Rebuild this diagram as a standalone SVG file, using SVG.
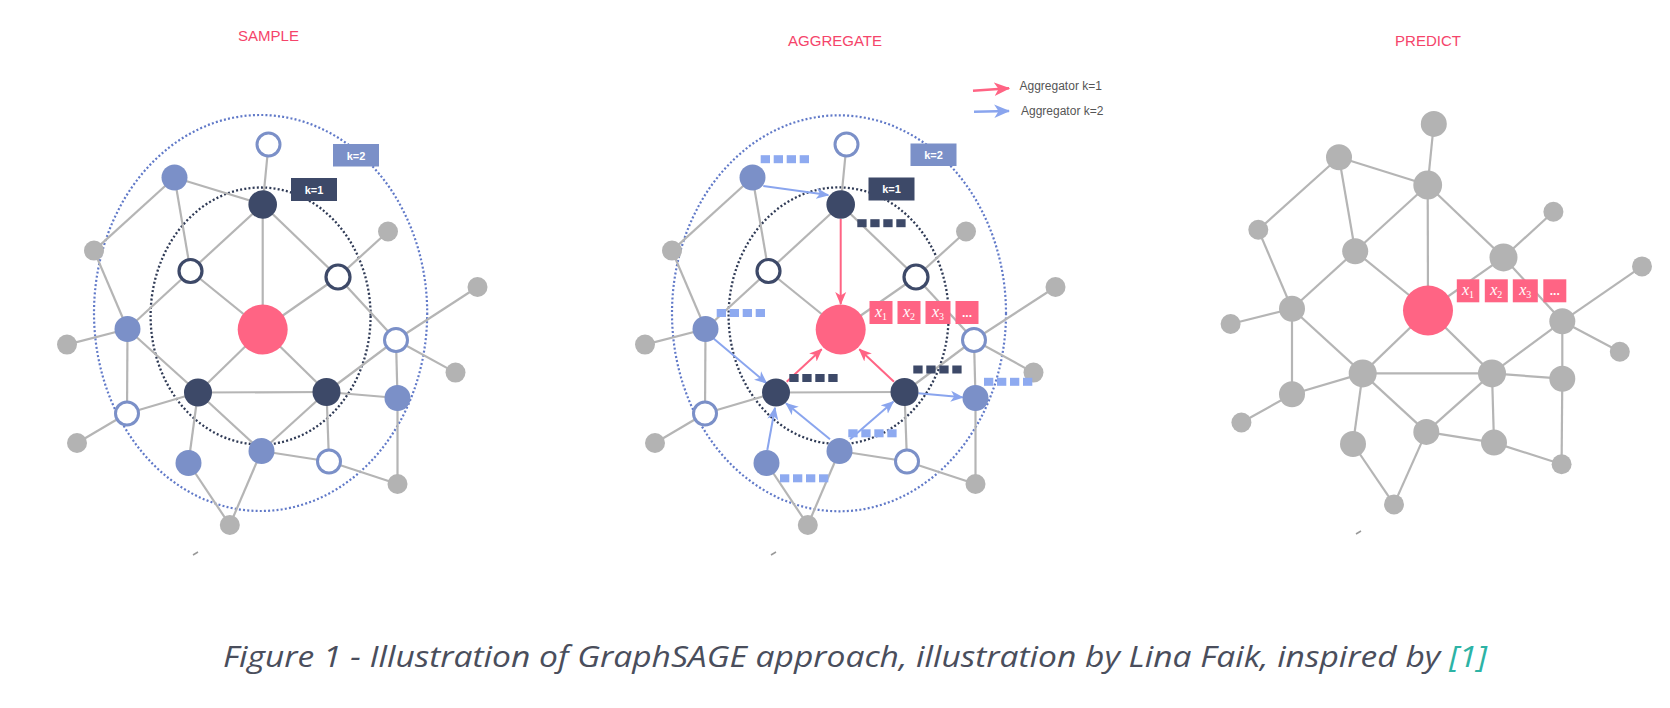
<svg xmlns="http://www.w3.org/2000/svg" width="1670" height="708" viewBox="0 0 1670 708">
<style>
.e{stroke:#b5b5b5;stroke-width:2.2;fill:none}
.g{fill:#b3b3b3}
.b{fill:#7b90c8}
.d{fill:#3d4968}
.p{fill:#ff6484}
.bh{fill:#fff;stroke:#7b90c8;stroke-width:3}
.dh{fill:#fff;stroke:#3d4968;stroke-width:3.2}
.ttl{font-family:"Liberation Sans",Arial,sans-serif;font-size:15px;fill:#f5446a;text-anchor:middle}
.kl{font-family:"Liberation Sans",Arial,sans-serif;font-size:11px;font-weight:bold;fill:#fff;text-anchor:middle}
.lg{font-family:"Liberation Sans",Arial,sans-serif;font-size:12px;fill:#555}
.bx{fill:#ff6484}
.bt{font-family:"Liberation Serif","Times New Roman",serif;font-size:16px;fill:#fff;text-anchor:middle}
.dots{font-family:"Liberation Sans",Arial,sans-serif;font-size:12px;font-weight:bold;fill:#fff;text-anchor:middle}
.sqd{fill:#3d4968}
.sqb{fill:#8eaaf0}
.ao{fill:none;stroke:#6079c8;stroke-width:2.2;stroke-dasharray:2 2.2}
.ai{fill:none;stroke:#2f3a55;stroke-width:2.3;stroke-dasharray:2 2.2}
.ap{stroke:#ff6484;stroke-width:2;fill:none}
.ab{stroke:#8aa5ee;stroke-width:2;fill:none}
.mk{stroke:#999;stroke-width:1.5}
.cap{font-family:"Open Sans","Noto Sans",sans-serif;font-style:italic;font-weight:400;font-size:30px;fill:#4a4e5c;font-variant-ligatures:none}
</style>
<defs>
<marker id="mp" markerUnits="userSpaceOnUse" viewBox="0 0 13 12" markerWidth="13" markerHeight="12" refX="12" refY="6" orient="auto"><path d="M0,0.5 L13,6 L0,11.5 L3.5,6 Z" fill="#ff6484"/></marker>
<marker id="mb" markerUnits="userSpaceOnUse" viewBox="0 0 13 12" markerWidth="13" markerHeight="12" refX="12" refY="6" orient="auto"><path d="M0,0.5 L13,6 L0,11.5 L3.5,6 Z" fill="#8aa5ee"/></marker>
<marker id="mpl" markerUnits="userSpaceOnUse" viewBox="0 0 13 12" markerWidth="16" markerHeight="15" refX="12" refY="6" orient="auto"><path d="M0,0.5 L13,6 L0,11.5 L3.5,6 Z" fill="#ff6484"/></marker>
<marker id="mbl" markerUnits="userSpaceOnUse" viewBox="0 0 13 12" markerWidth="16" markerHeight="15" refX="12" refY="6" orient="auto"><path d="M0,0.5 L13,6 L0,11.5 L3.5,6 Z" fill="#8aa5ee"/></marker>
<g id="sq4d"><rect x="0" y="0" width="9.3" height="8" class="sqd"/><rect x="13" y="0" width="9.3" height="8" class="sqd"/><rect x="26" y="0" width="9.3" height="8" class="sqd"/><rect x="39" y="0" width="9.3" height="8" class="sqd"/></g>
<g id="sq4b"><rect x="0" y="0" width="9.3" height="8" class="sqb"/><rect x="13" y="0" width="9.3" height="8" class="sqb"/><rect x="26" y="0" width="9.3" height="8" class="sqb"/><rect x="39" y="0" width="9.3" height="8" class="sqb"/></g>
</defs>
<rect width="1670" height="708" fill="#fff"/>

<!-- titles -->
<text class="ttl" x="268.5" y="41">SAMPLE</text>
<text class="ttl" x="835" y="46">AGGREGATE</text>
<text class="ttl" x="1428" y="46">PREDICT</text>

<!-- ===== PANEL 1 ===== -->
<g id="p1-regions">
<ellipse class="ao" cx="260.6" cy="313" rx="166.6" ry="198"/>
<ellipse class="ai" cx="260.6" cy="316" rx="110" ry="128.5"/>
</g>
<g id="p1-edges">
<line class="e" x1="268.5" y1="144.5" x2="262.7" y2="204.5"/>
<line class="e" x1="174.5" y1="177.5" x2="262.7" y2="204.5"/>
<line class="e" x1="174.5" y1="177.5" x2="94" y2="250.6"/>
<line class="e" x1="174.5" y1="177.5" x2="190.5" y2="271"/>
<line class="e" x1="262.7" y1="204.5" x2="190.5" y2="271"/>
<line class="e" x1="262.7" y1="204.5" x2="262.7" y2="329.5"/>
<line class="e" x1="262.7" y1="204.5" x2="338" y2="277"/>
<line class="e" x1="338" y1="277" x2="388" y2="231.5"/>
<line class="e" x1="338" y1="277" x2="262.7" y2="329.5"/>
<line class="e" x1="338" y1="277" x2="396" y2="340"/>
<line class="e" x1="190.5" y1="271" x2="262.7" y2="329.5"/>
<line class="e" x1="190.5" y1="271" x2="127.5" y2="329"/>
<line class="e" x1="94" y1="250.6" x2="127.5" y2="329"/>
<line class="e" x1="67" y1="344.6" x2="127.5" y2="329"/>
<line class="e" x1="127.5" y1="329" x2="127" y2="413.5"/>
<line class="e" x1="127.5" y1="329" x2="198" y2="392.5"/>
<line class="e" x1="127" y1="413.5" x2="198" y2="392.5"/>
<line class="e" x1="127" y1="413.5" x2="77" y2="443"/>
<line class="e" x1="262.7" y1="329.5" x2="198" y2="392.5"/>
<line class="e" x1="262.7" y1="329.5" x2="326.5" y2="392"/>
<line class="e" x1="198" y1="392.5" x2="326.5" y2="392"/>
<line class="e" x1="198" y1="392.5" x2="188.5" y2="463"/>
<line class="e" x1="198" y1="392.5" x2="261.5" y2="451"/>
<line class="e" x1="326.5" y1="392" x2="261.5" y2="451"/>
<line class="e" x1="326.5" y1="392" x2="329" y2="461.5"/>
<line class="e" x1="326.5" y1="392" x2="397.5" y2="398"/>
<line class="e" x1="326.5" y1="392" x2="396" y2="340"/>
<line class="e" x1="396" y1="340" x2="477.5" y2="287"/>
<line class="e" x1="396" y1="340" x2="455.5" y2="372.6"/>
<line class="e" x1="396" y1="340" x2="397.5" y2="398"/>
<line class="e" x1="397.5" y1="398" x2="397.5" y2="484"/>
<line class="e" x1="329" y1="461.5" x2="397.5" y2="484"/>
<line class="e" x1="261.5" y1="451" x2="329" y2="461.5"/>
<line class="e" x1="261.5" y1="451" x2="229.8" y2="525"/>
<line class="e" x1="188.5" y1="463" x2="229.8" y2="525"/>
<line class="mk" x1="193" y1="555" x2="198" y2="552"/>
</g>
<g id="p1-nodes">
<g id="p1-C"><circle class="p" cx="262.7" cy="329.5" r="25"/></g>
<g id="p1-D1"><circle class="d" cx="262.7" cy="204.5" r="14.3"/></g>
<g id="p1-D2"><circle class="d" cx="198" cy="392.5" r="14"/></g>
<g id="p1-D3"><circle class="d" cx="326.5" cy="392" r="14"/></g>
<g id="p1-H1"><circle class="dh" cx="190.5" cy="271" r="11.5"/></g>
<g id="p1-H2"><circle class="dh" cx="338" cy="277" r="12"/></g>
<g id="p1-BH1"><circle class="bh" cx="268.5" cy="144.5" r="11.5"/></g>
<g id="p1-BH2"><circle class="bh" cx="396" cy="340" r="11.5"/></g>
<g id="p1-BH3"><circle class="bh" cx="127" cy="413.5" r="11.5"/></g>
<g id="p1-BH4"><circle class="bh" cx="329" cy="461.5" r="11.5"/></g>
<g id="p1-B1"><circle class="b" cx="174.5" cy="177.5" r="13"/></g>
<g id="p1-B2"><circle class="b" cx="127.5" cy="329" r="13"/></g>
<g id="p1-B3"><circle class="b" cx="397.5" cy="398" r="13"/></g>
<g id="p1-B4"><circle class="b" cx="188.5" cy="463" r="13"/></g>
<g id="p1-B5"><circle class="b" cx="261.5" cy="451" r="13"/></g>
<g id="p1-G1"><circle class="g" cx="94" cy="250.6" r="10"/></g>
<g id="p1-G2"><circle class="g" cx="67" cy="344.6" r="10"/></g>
<g id="p1-G3"><circle class="g" cx="77" cy="443" r="10"/></g>
<g id="p1-G4"><circle class="g" cx="229.8" cy="525" r="10"/></g>
<g id="p1-G5"><circle class="g" cx="397.5" cy="484" r="10"/></g>
<g id="p1-G6"><circle class="g" cx="455.5" cy="372.6" r="10"/></g>
<g id="p1-G7"><circle class="g" cx="477.5" cy="287" r="10"/></g>
<g id="p1-G8"><circle class="g" cx="388" cy="231.5" r="10"/></g>
<g id="p1-k2"><rect x="333" y="144" width="46" height="22.5" fill="#7b90c8"/><text class="kl" x="356" y="159.5">k=2</text></g>
<g id="p1-k1"><rect x="291" y="178" width="46" height="23" fill="#3d4968"/><text class="kl" x="314" y="193.5">k=1</text></g>
</g>

<!-- ===== PANEL 2 ===== -->
<g id="p2-regions">
<ellipse class="ao" cx="839" cy="313.3" rx="167" ry="198"/>
<ellipse class="ai" cx="838.6" cy="315.7" rx="110" ry="128.3"/>
</g>
<g id="p2-edges">
<line class="e" x1="846.5" y1="144.5" x2="840.7" y2="204.5"/>
<line class="e" x1="752.5" y1="177.5" x2="672" y2="250.6"/>
<line class="e" x1="752.5" y1="177.5" x2="768.5" y2="271"/>
<line class="e" x1="840.7" y1="204.5" x2="768.5" y2="271"/>
<line class="e" x1="840.7" y1="204.5" x2="916" y2="277"/>
<line class="e" x1="916" y1="277" x2="966" y2="231.5"/>
<line class="e" x1="916" y1="277" x2="840.7" y2="329.5"/>
<line class="e" x1="916" y1="277" x2="974" y2="340"/>
<line class="e" x1="768.5" y1="271" x2="840.7" y2="329.5"/>
<line class="e" x1="768.5" y1="271" x2="705.5" y2="329"/>
<line class="e" x1="672" y1="250.6" x2="705.5" y2="329"/>
<line class="e" x1="645" y1="344.6" x2="705.5" y2="329"/>
<line class="e" x1="705.5" y1="329" x2="705" y2="413.5"/>
<line class="e" x1="705" y1="413.5" x2="776" y2="392.5"/>
<line class="e" x1="705" y1="413.5" x2="655" y2="443"/>
<line class="e" x1="776" y1="392.5" x2="904.5" y2="392"/>
<line class="e" x1="904.5" y1="392" x2="907" y2="461.5"/>
<line class="e" x1="904.5" y1="392" x2="974" y2="340"/>
<line class="e" x1="974" y1="340" x2="1055.5" y2="287"/>
<line class="e" x1="974" y1="340" x2="1033.5" y2="372.6"/>
<line class="e" x1="974" y1="340" x2="975.5" y2="398"/>
<line class="e" x1="975.5" y1="398" x2="975.5" y2="484"/>
<line class="e" x1="907" y1="461.5" x2="975.5" y2="484"/>
<line class="e" x1="839.5" y1="451" x2="907" y2="461.5"/>
<line class="e" x1="839.5" y1="451" x2="807.8" y2="525"/>
<line class="e" x1="766.5" y1="463" x2="807.8" y2="525"/>
<line class="mk" x1="771" y1="555" x2="776" y2="552"/>
</g>
<g id="p2-arrows">
<line class="ap" x1="840.7" y1="219" x2="840.7" y2="304" marker-end="url(#mp)"/>
<line class="ap" x1="786.7" y1="381.7" x2="821.7" y2="349.3" marker-end="url(#mp)"/>
<line class="ap" x1="894" y1="381.7" x2="859.3" y2="349.3" marker-end="url(#mp)"/>
<line class="ab" x1="763.3" y1="186" x2="828.3" y2="195" marker-end="url(#mb)"/>
<line class="ab" x1="713.3" y1="338.3" x2="766.7" y2="383.3" marker-end="url(#mb)"/>
<line class="ab" x1="767.3" y1="450" x2="775" y2="407.7" marker-end="url(#mb)"/>
<line class="ab" x1="830" y1="439.3" x2="786" y2="403.3" marker-end="url(#mb)"/>
<line class="ab" x1="850" y1="439.3" x2="893.3" y2="401.7" marker-end="url(#mb)"/>
<line class="ab" x1="918.3" y1="393.3" x2="962.7" y2="397.3" marker-end="url(#mb)"/>
</g>
<g id="p2-nodes">
<g id="p2-C"><circle class="p" cx="840.7" cy="329.5" r="25"/></g>
<g id="p2-D1"><circle class="d" cx="840.7" cy="204.5" r="14.3"/></g>
<g id="p2-D2"><circle class="d" cx="776" cy="392.5" r="14"/></g>
<g id="p2-D3"><circle class="d" cx="904.5" cy="392" r="14"/></g>
<g id="p2-H1"><circle class="dh" cx="768.5" cy="271" r="11.5"/></g>
<g id="p2-H2"><circle class="dh" cx="916" cy="277" r="12"/></g>
<g id="p2-BH1"><circle class="bh" cx="846.5" cy="144.5" r="11.5"/></g>
<g id="p2-BH2"><circle class="bh" cx="974" cy="340" r="11.5"/></g>
<g id="p2-BH3"><circle class="bh" cx="705" cy="413.5" r="11.5"/></g>
<g id="p2-BH4"><circle class="bh" cx="907" cy="461.5" r="11.5"/></g>
<g id="p2-B1"><circle class="b" cx="752.5" cy="177.5" r="13"/></g>
<g id="p2-B2"><circle class="b" cx="705.5" cy="329" r="13"/></g>
<g id="p2-B3"><circle class="b" cx="975.5" cy="398" r="13"/></g>
<g id="p2-B4"><circle class="b" cx="766.5" cy="463" r="13"/></g>
<g id="p2-B5"><circle class="b" cx="839.5" cy="451" r="13"/></g>
<g id="p2-G1"><circle class="g" cx="672" cy="250.6" r="10"/></g>
<g id="p2-G2"><circle class="g" cx="645" cy="344.6" r="10"/></g>
<g id="p2-G3"><circle class="g" cx="655" cy="443" r="10"/></g>
<g id="p2-G4"><circle class="g" cx="807.8" cy="525" r="10"/></g>
<g id="p2-G5"><circle class="g" cx="975.5" cy="484" r="10"/></g>
<g id="p2-G6"><circle class="g" cx="1033.5" cy="372.6" r="10"/></g>
<g id="p2-G7"><circle class="g" cx="1055.5" cy="287" r="10"/></g>
<g id="p2-G8"><circle class="g" cx="966" cy="231.5" r="10"/></g>
<g id="p2-k2"><rect x="910.5" y="143.5" width="46" height="22.5" fill="#7b90c8"/><text class="kl" x="933.5" y="159">k=2</text></g>
<g id="p2-k1"><rect x="868.5" y="177.5" width="46" height="23" fill="#3d4968"/><text class="kl" x="891.5" y="193">k=1</text></g>
<g id="p2-feat-d1"><use href="#sq4d" x="857.3" y="219.2"/></g>
<g id="p2-feat-d2"><use href="#sq4d" x="789.3" y="374"/></g>
<g id="p2-feat-d3"><use href="#sq4d" x="913.3" y="365.5"/></g>
<g id="p2-feat-b1"><use href="#sq4b" x="760.7" y="155.2"/></g>
<g id="p2-feat-b2"><use href="#sq4b" x="716.7" y="309"/></g>
<g id="p2-feat-b3"><use href="#sq4b" x="984" y="377.8"/></g>
<g id="p2-feat-b5"><use href="#sq4b" x="848.3" y="429.3"/></g>
<g id="p2-feat-b4"><use href="#sq4b" x="780" y="474.3"/></g>
<g id="p2-vec">
<rect class="bx" x="869.5" y="301" width="23" height="23"/><text class="bt" x="881" y="316.5"><tspan font-style="italic">x</tspan><tspan font-size="10" dy="3">1</tspan></text>
<rect class="bx" x="897.5" y="301" width="23" height="23"/><text class="bt" x="909" y="316.5"><tspan font-style="italic">x</tspan><tspan font-size="10" dy="3">2</tspan></text>
<rect class="bx" x="925.5" y="301" width="25" height="23"/><text class="bt" x="938" y="316.5"><tspan font-style="italic">x</tspan><tspan font-size="10" dy="3">3</tspan></text>
<rect class="bx" x="955.5" y="301" width="23" height="23"/><text class="dots" x="967" y="317">...</text>
</g>
</g>
<g id="legend">
<line x1="973" y1="90.7" x2="1009" y2="88.3" stroke="#ff6484" stroke-width="2.6" marker-end="url(#mpl)"/>
<text class="lg" x="1019.5" y="89.5">Aggregator k=1</text>
<line x1="974" y1="111.7" x2="1009" y2="111" stroke="#8aa5ee" stroke-width="2.6" marker-end="url(#mbl)"/>
<text class="lg" x="1021" y="115">Aggregator k=2</text>
</g>

<!-- ===== PANEL 3 ===== -->
<g id="p3-edges">
<line class="e" x1="1433.8" y1="123.9" x2="1427.7" y2="185"/>
<line class="e" x1="1339" y1="157.3" x2="1427.7" y2="185"/>
<line class="e" x1="1339" y1="157.3" x2="1258.3" y2="229.8"/>
<line class="e" x1="1339" y1="157.3" x2="1355.2" y2="251.3"/>
<line class="e" x1="1427.7" y1="185" x2="1355.2" y2="251.3"/>
<line class="e" x1="1427.7" y1="185" x2="1428" y2="310.5"/>
<line class="e" x1="1427.7" y1="185" x2="1503.5" y2="257.4"/>
<line class="e" x1="1503.5" y1="257.4" x2="1553.4" y2="211.8"/>
<line class="e" x1="1503.5" y1="257.4" x2="1428" y2="310.5"/>
<line class="e" x1="1503.5" y1="257.4" x2="1562.3" y2="321.3"/>
<line class="e" x1="1355.2" y1="251.3" x2="1428" y2="310.5"/>
<line class="e" x1="1355.2" y1="251.3" x2="1292" y2="308.7"/>
<line class="e" x1="1258.3" y1="229.8" x2="1292" y2="308.7"/>
<line class="e" x1="1230.6" y1="324" x2="1292" y2="308.7"/>
<line class="e" x1="1292" y1="308.7" x2="1292" y2="394.2"/>
<line class="e" x1="1292" y1="308.7" x2="1362.7" y2="373.4"/>
<line class="e" x1="1292" y1="394.2" x2="1362.7" y2="373.4"/>
<line class="e" x1="1292" y1="394.2" x2="1241.4" y2="422.5"/>
<line class="e" x1="1428" y1="310.5" x2="1362.7" y2="373.4"/>
<line class="e" x1="1428" y1="310.5" x2="1492" y2="373.4"/>
<line class="e" x1="1362.7" y1="373.4" x2="1492" y2="373.4"/>
<line class="e" x1="1362.7" y1="373.4" x2="1353" y2="444"/>
<line class="e" x1="1362.7" y1="373.4" x2="1426.3" y2="431.9"/>
<line class="e" x1="1492" y1="373.4" x2="1426.3" y2="431.9"/>
<line class="e" x1="1492" y1="373.4" x2="1494" y2="442.6"/>
<line class="e" x1="1492" y1="373.4" x2="1562.3" y2="378.7"/>
<line class="e" x1="1492" y1="373.4" x2="1562.3" y2="321.3"/>
<line class="e" x1="1562.3" y1="321.3" x2="1642" y2="266.4"/>
<line class="e" x1="1562.3" y1="321.3" x2="1619.8" y2="351.8"/>
<line class="e" x1="1562.3" y1="321.3" x2="1562.3" y2="378.7"/>
<line class="e" x1="1562.3" y1="378.7" x2="1561.6" y2="464.2"/>
<line class="e" x1="1494" y1="442.6" x2="1561.6" y2="464.2"/>
<line class="e" x1="1426.3" y1="431.9" x2="1494" y2="442.6"/>
<line class="e" x1="1426.3" y1="431.9" x2="1394" y2="504.4"/>
<line class="e" x1="1353" y1="444" x2="1394" y2="504.4"/>
<line class="mk" x1="1356" y1="534" x2="1361" y2="531"/>
</g>
<g id="p3-nodes">
<g id="p3-C"><circle class="p" cx="1428" cy="310.5" r="25"/></g>
<g id="p3-n1"><circle class="g" cx="1433.8" cy="123.9" r="13"/></g>
<g id="p3-n2"><circle class="g" cx="1339" cy="157.3" r="13"/></g>
<g id="p3-n3"><circle class="g" cx="1427.7" cy="185" r="14.4"/></g>
<g id="p3-n4"><circle class="g" cx="1258.3" cy="229.8" r="10"/></g>
<g id="p3-n5"><circle class="g" cx="1355.2" cy="251.3" r="13"/></g>
<g id="p3-n6"><circle class="g" cx="1503.5" cy="257.4" r="14"/></g>
<g id="p3-n7"><circle class="g" cx="1553.4" cy="211.8" r="10"/></g>
<g id="p3-n8"><circle class="g" cx="1292" cy="308.7" r="13"/></g>
<g id="p3-n9"><circle class="g" cx="1230.6" cy="324" r="10"/></g>
<g id="p3-n10"><circle class="g" cx="1562.3" cy="321.3" r="13"/></g>
<g id="p3-n11"><circle class="g" cx="1642" cy="266.4" r="10"/></g>
<g id="p3-n12"><circle class="g" cx="1619.8" cy="351.8" r="10"/></g>
<g id="p3-n13"><circle class="g" cx="1362.7" cy="373.4" r="14"/></g>
<g id="p3-n14"><circle class="g" cx="1492" cy="373.4" r="14"/></g>
<g id="p3-n15"><circle class="g" cx="1562.3" cy="378.7" r="13"/></g>
<g id="p3-n16"><circle class="g" cx="1292" cy="394.2" r="13"/></g>
<g id="p3-n17"><circle class="g" cx="1241.4" cy="422.5" r="10"/></g>
<g id="p3-n18"><circle class="g" cx="1353" cy="444" r="13"/></g>
<g id="p3-n19"><circle class="g" cx="1426.3" cy="431.9" r="13"/></g>
<g id="p3-n20"><circle class="g" cx="1494" cy="442.6" r="13"/></g>
<g id="p3-n21"><circle class="g" cx="1561.6" cy="464.2" r="10"/></g>
<g id="p3-n22"><circle class="g" cx="1394" cy="504.4" r="10"/></g>
<g id="p3-vec">
<rect class="bx" x="1456.8" y="279.3" width="22.5" height="23"/><text class="bt" x="1468" y="294.8"><tspan font-style="italic">x</tspan><tspan font-size="10" dy="3">1</tspan></text>
<rect class="bx" x="1484.8" y="279.3" width="23" height="23"/><text class="bt" x="1496.3" y="294.8"><tspan font-style="italic">x</tspan><tspan font-size="10" dy="3">2</tspan></text>
<rect class="bx" x="1512.8" y="279.3" width="25" height="23"/><text class="bt" x="1525.3" y="294.8"><tspan font-style="italic">x</tspan><tspan font-size="10" dy="3">3</tspan></text>
<rect class="bx" x="1543.3" y="279.3" width="23" height="23"/><text class="dots" x="1554.8" y="295.3">...</text>
</g>
</g>

<!-- caption -->
<text class="cap" x="223" y="667" textLength="1264" lengthAdjust="spacingAndGlyphs">Figure 1 - Illustration of GraphSAGE approach, illustration by Lina Faik, inspired by <tspan fill="#2db3a5">[1]</tspan></text>
</svg>
